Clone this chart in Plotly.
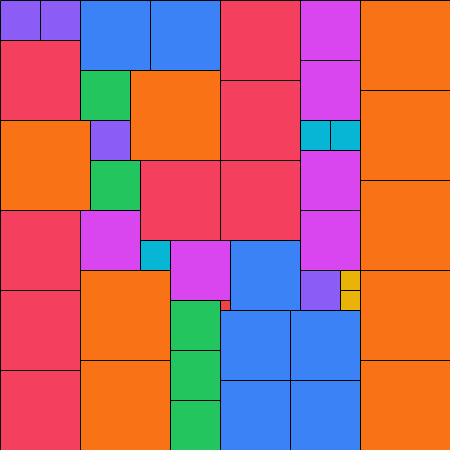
"""
Partridge tiling of order 9: squares of side n (n copies each) packed in a 45x45 square
"""

import plotly.graph_objects as go

# side length of each square (in units of 10 px)
sizes = [4, 4, 7, 7, 8, 6, 9, 8, 5, 9, 8, 6, 9, 3, 3, 9, 4, 6, 5, 8, 8, 9, 8,
         6, 6, 3, 6, 7, 9, 4, 2, 2, 9, 8, 5, 1, 7, 7, 5, 9, 9, 8, 7, 7, 5]
# top-left corner of each square
xs = [0, 4, 8, 15, 22, 30, 36, 0, 8, 13, 22, 30, 36, 30, 33, 0, 9, 30, 9, 14, 22, 36, 0,
      8, 30, 14, 17, 23, 8, 30, 34, 34, 36, 0, 17, 22, 22, 29, 17, 8, 36, 0, 22, 29, 17]
ys = [0, 0, 0, 0, 0, 0, 0, 4, 7, 7, 8, 6, 9, 12, 12, 12, 12, 15, 16, 16, 16, 18, 21,
      21, 21, 24, 24, 24, 27, 27, 27, 29, 27, 29, 30, 30, 31, 31, 35, 36, 36, 37, 38, 38, 40]

size_colors = {
    1: '#ef4444',
    2: '#eab308',
    3: '#06b6d4',
    4: '#8b5cf6',
    5: '#22c55e',
    6: '#d946ef',
    7: '#3b82f6',
    8: '#f43f5e',
    9: '#f97316',
}

fig = go.Figure()

shapes = []
for s, x, y in zip(sizes, xs, ys):
    shapes.append(dict(
        type='rect', xref='x', yref='y',
        x0=x, x1=x + s, y0=y, y1=y + s,
        fillcolor=size_colors[s],
        line=dict(color='black', width=1),
        layer='above'
    ))

# invisible trace so the axes exist
fig.add_trace(go.Scatter(x=[0], y=[0], mode='markers',
                         marker=dict(opacity=0), hoverinfo='skip', showlegend=False))

fig.update_layout(
    shapes=shapes,
    width=450, height=450,
    margin=dict(l=0, r=0, t=0, b=0),
    xaxis=dict(range=[-0.05, 44.95], visible=False, fixedrange=True),
    yaxis=dict(range=[44.95, -0.05], visible=False, fixedrange=True),
    plot_bgcolor='white',
    paper_bgcolor='white',
    showlegend=False
)

fig.write_html(
    "out.html",
    config=dict(displayModeBar=False),
    post_script="document.body.style.margin='0';document.body.style.overflow='hidden';"
)
